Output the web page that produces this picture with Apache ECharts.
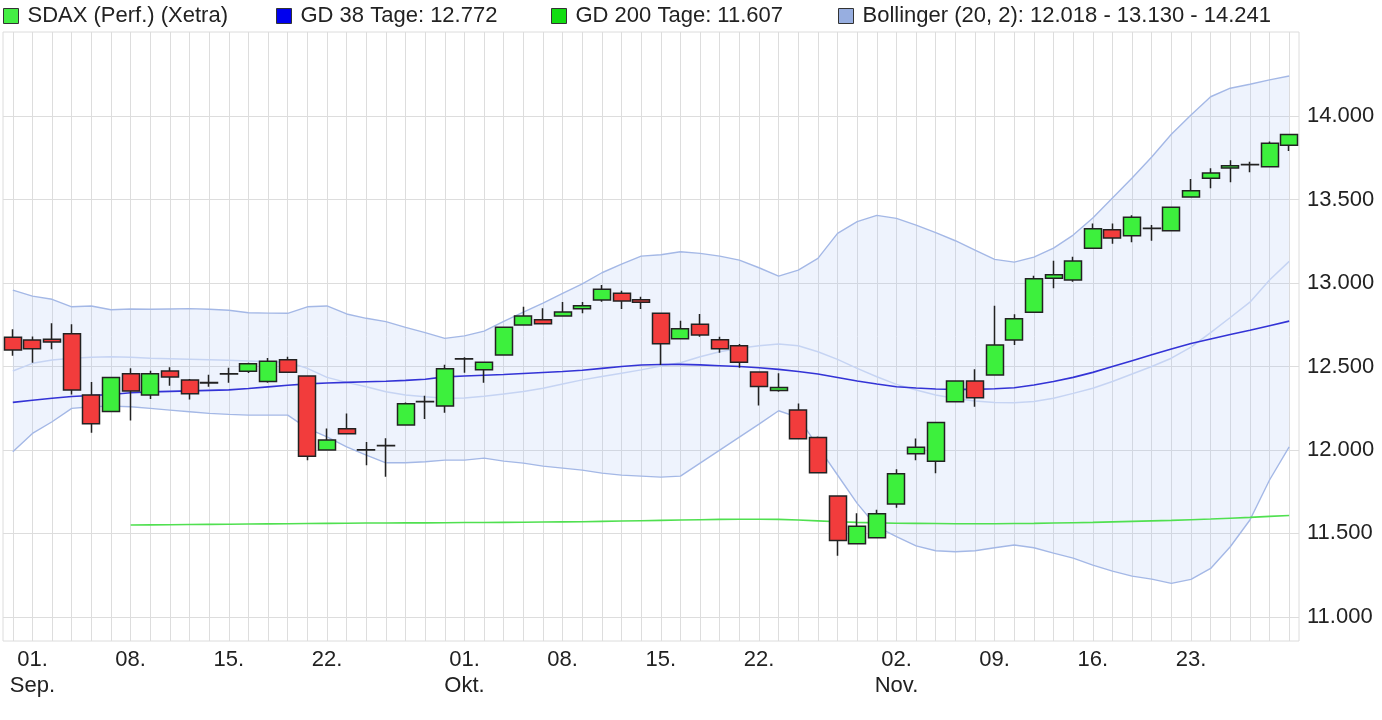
<!DOCTYPE html>
<html>
<head>
<meta charset="utf-8">
<script src="https://cdn.jsdelivr.net/npm/echarts@6/dist/echarts.min.js"></script>
<style>
html,body{margin:0;padding:0;background:#fff;}
#chart{width:1382px;height:720px;}
</style>
</head>
<body>
<div id="chart"></div>
<script>
const dates = [
'2020-08-31',
'2020-09-01','2020-09-02','2020-09-03','2020-09-04','2020-09-07','2020-09-08','2020-09-09','2020-09-10','2020-09-11',
'2020-09-14','2020-09-15','2020-09-16','2020-09-17','2020-09-18','2020-09-21','2020-09-22','2020-09-23','2020-09-24','2020-09-25',
'2020-09-28','2020-09-29','2020-09-30',
'2020-10-01','2020-10-02','2020-10-05','2020-10-06','2020-10-07','2020-10-08','2020-10-09','2020-10-12','2020-10-13','2020-10-14',
'2020-10-15','2020-10-16','2020-10-19','2020-10-20','2020-10-21','2020-10-22','2020-10-23','2020-10-26','2020-10-27','2020-10-28',
'2020-10-29','2020-10-30',
'2020-11-02','2020-11-03','2020-11-04','2020-11-05','2020-11-06','2020-11-09','2020-11-10','2020-11-11','2020-11-12','2020-11-13',
'2020-11-16','2020-11-17','2020-11-18','2020-11-19','2020-11-20','2020-11-23','2020-11-24','2020-11-25','2020-11-26','2020-11-27',
'2020-11-30'
];

const openVals = [12675,12659,12663,12697,12329,12231,12457,12329,12473,12419,
12402,12455,12471,12411,12541,12443,11999,12127,11999,12025,
12149,12289,12263,12545,12481,12569,12749,12781,12803,12846,
12899,12939,12900,12819,12667,12753,12661,12625,12467,12357,
12239,12075,11724,11438,11474,11676,11977,11932,12289,12413,
12449,12659,12825,13029,13019,13209,13320,13284,13327,13314,
13516,13628,13690,13709,13698,13826];
const closeVals = [12599,12607,12647,12359,12157,12435,12353,12457,12437,12337,
12404,12457,12517,12531,12465,11962,12059,12097,12001,12027,
12277,12291,12487,12547,12525,12735,12803,12757,12827,12864,
12963,12893,12885,12637,12727,12689,12607,12525,12381,12375,
12067,11863,11458,11542,11617,11857,12016,12165,12413,12313,
12629,12787,13026,13050,13132,13326,13270,13394,13329,13454,
13554,13660,13704,13711,13838,13890];
const lowVals = [12565,12523,12603,12333,12103,12231,12177,12305,12385,12303,
12379,12403,12461,12403,12461,11938,11995,12095,11908,11839,
12147,12185,12223,12463,12403,12567,12747,12755,12801,12819,
12888,12845,12845,12509,12665,12679,12583,12493,12267,12349,
12065,11861,11366,11436,11470,11653,11938,11861,12287,12259,
12447,12629,12823,12969,13008,13207,13236,13245,13254,13312,
13514,13568,13604,13664,13695,13792];
const highVals = [12723,12680,12759,12753,12407,12437,12489,12475,12495,12425,
12451,12493,12522,12551,12559,12445,12129,12219,12047,12070,
12285,12325,12511,12555,12529,12740,12858,12849,12887,12887,
12989,12954,12918,12821,12775,12815,12679,12635,12470,12459,
12279,12080,11726,11620,11641,11884,12069,12167,12418,12483,
12864,12813,13044,13134,13158,13358,13358,13406,13348,13458,
13624,13688,13736,13728,13848,13893];

const gd38 = [12285,12298,12310,12320,12326,12332,12343,12348,12351,12354,
12357,12360,12368,12378,12388,12396,12401,12405,12409,12412,
12417,12424,12438,12443,12448,12452,12458,12464,12470,12478,
12489,12500,12509,12512,12513,12510,12505,12500,12493,12483,
12470,12455,12434,12413,12395,12379,12371,12365,12363,12363,
12367,12373,12389,12410,12435,12465,12500,12535,12570,12605,
12638,12665,12692,12718,12745,12772];
const gd200 = [null,null,null,null,null,null,11550,11551,11552,11553,
11554,11555,11556,11557,11558,11559,11560,11561,11562,11562,
11563,11563,11564,11565,11565,11566,11567,11568,11569,11570,
11572,11574,11576,11578,11580,11582,11584,11585,11585,11584,
11580,11575,11570,11566,11563,11561,11560,11559,11558,11558,
11558,11559,11560,11562,11564,11566,11569,11572,11575,11578,
11582,11586,11591,11596,11602,11607];
const bbUpper = [12958,12922,12903,12858,12863,12840,12845,12843,12845,12847,
12843,12837,12822,12820,12819,12858,12863,12815,12789,12769,
12735,12703,12669,12684,12712,12770,12826,12880,12938,12995,
13062,13114,13162,13170,13188,13178,13162,13138,13092,13042,
13078,13148,13298,13368,13406,13388,13348,13302,13254,13198,
13142,13126,13156,13210,13288,13390,13510,13630,13756,13892,
14008,14117,14168,14192,14218,14241];
const bbMiddle = [12473,12519,12539,12549,12555,12559,12555,12549,12546,12543,
12540,12537,12533,12529,12527,12489,12435,12405,12379,12349,
12329,12319,12310,12312,12322,12335,12350,12370,12395,12420,
12440,12460,12480,12503,12523,12559,12589,12609,12625,12635,
12625,12589,12543,12489,12439,12393,12359,12329,12309,12293,
12285,12283,12290,12310,12339,12370,12410,12455,12500,12550,
12616,12703,12794,12886,13019,13130];
const bbLower = [11989,12099,12169,12249,12259,12263,12259,12249,12239,12229,
12219,12213,12209,12209,12209,12129,12079,12019,11969,11923,
11923,11929,11939,11939,11951,11933,11921,11903,11891,11879,
11861,11849,11843,11837,11843,11921,11999,12077,12155,12235,
12195,12020,11850,11680,11540,11480,11425,11396,11390,11396,
11414,11430,11414,11382,11352,11310,11274,11244,11226,11200,
11224,11290,11420,11580,11820,12018];

const tickDates = ['2020-09-01','2020-09-08','2020-09-15','2020-09-22','2020-10-01','2020-10-08','2020-10-15','2020-10-22','2020-11-02','2020-11-09','2020-11-16','2020-11-23'];
const tickTexts = ['01.\nSep.','08.','15.','22.','01.\nOkt.','08.','15.','22.','02.\nNov.','09.','16.','23.'];
const yTicks = [11000,11500,12000,12500,13000,13500,14000];

const nameSdax = 'SDAX (Perf.) (Xetra)';
const nameGd38 = 'GD 38 Tage: 12.772';
const nameGd200 = 'GD 200 Tage: 11.607';
const nameBoll = 'Bollinger (20, 2): 12.018 - 13.130 - 14.241';

const candleData = dates.map((d, i) => [openVals[i], closeVals[i], lowVals[i], highVals[i]]);
const bandWidthData = bbUpper.map((u, i) => u - bbLower[i]);

const FONT = "'Liberation Sans', Arial, sans-serif";
const chart = echarts.init(document.getElementById('chart'), null, {renderer: 'canvas'});

function legendFor(name, left, color) {
  return {
    left: left, top: 5, padding: 0, orient: 'horizontal',
    selectedMode: false,
    itemWidth: 15, itemHeight: 15, icon: 'rect',
    textStyle: {fontSize: 22, color: '#222', fontFamily: FONT, padding: [0, 0, 0, 4]},
    data: [{name: name, icon: 'rect', itemStyle: {color: color, borderColor: '#333', borderWidth: 1, opacity: 1}}]
  };
}

const option = {
  animation: false,
  backgroundColor: '#fff',
  textStyle: {fontFamily: FONT},
  legend: [
    legendFor(nameSdax, 3, '#44ee44'),
    legendFor(nameGd38, 276, '#0000ee'),
    legendFor(nameGd200, 551, '#11dd11'),
    legendFor(nameBoll, 838, '#97aee0')
  ],
  grid: {
    left: 3, right: 83, top: 32, bottom: 79,
    show: true, borderColor: '#dcdcdc', borderWidth: 1,
    containLabel: false, outerBoundsMode: 'none'
  },
  xAxis: {
    type: 'category',
    data: dates,
    boundaryGap: true,
    axisLine: {show: false},
    axisTick: {show: false, alignWithLabel: true, interval: 0},
    splitLine: {show: true, interval: 0, alignWithLabel: true, lineStyle: {color: '#dddddd', width: 1}},
    axisLabel: {
      interval: (idx, val) => tickDates.indexOf(val) >= 0,
      formatter: (val) => { const k = tickDates.indexOf(val); return k >= 0 ? tickTexts[k] : ''; },
      fontSize: 22, color: '#222', fontFamily: FONT, lineHeight: 26, margin: 6,
      align: 'center'
    }
  },
  yAxis: {
    type: 'value',
    position: 'right',
    min: 10855, max: 14505,
    scale: true,
    axisLine: {show: false},
    axisTick: {show: false, customValues: yTicks},
    splitLine: {show: true, lineStyle: {color: '#dddddd', width: 1}},
    axisLabel: {
      customValues: yTicks,
      formatter: (v) => (v / 1000).toFixed(3),
      fontSize: 22, color: '#222', fontFamily: FONT, margin: 8
    }
  },
  series: [
    {name: 'bbBase', type: 'line', z: 2, data: bbLower, stack: 'bb', symbol: 'none', silent: true,
     lineStyle: {width: 0, opacity: 0}},
    {name: 'bbFill', type: 'line', z: 2, data: bandWidthData, stack: 'bb', symbol: 'none', silent: true,
     lineStyle: {width: 0, opacity: 0}, areaStyle: {color: 'rgba(170,192,245,0.28)'}},
    {name: 'bbMid', type: 'line', z: 3, data: bbMiddle, symbol: 'none', silent: true,
     lineStyle: {color: '#c6d4f3', width: 1.5}},
    {name: nameBoll, type: 'line', z: 3, data: bbUpper, symbol: 'none', silent: true,
     itemStyle: {color: '#97aee0'}, lineStyle: {color: '#a4b8e6', width: 1.4}},
    {name: 'bbLow', type: 'line', z: 3, data: bbLower, symbol: 'none', silent: true,
     lineStyle: {color: '#a4b8e6', width: 1.4}},
    {name: nameGd200, type: 'line', z: 4, data: gd200, symbol: 'none', silent: true,
     itemStyle: {color: '#11dd11'}, lineStyle: {color: '#50e050', width: 1.6}},
    {name: nameGd38, type: 'line', z: 4, data: gd38, symbol: 'none', silent: true,
     itemStyle: {color: '#0000ee'}, lineStyle: {color: '#3333d6', width: 1.6}},
    {name: nameSdax, type: 'candlestick', z: 6, data: candleData, barWidth: 17.5,
     itemStyle: {color: '#3df03d', color0: '#f23c3c', borderColor: '#222', borderColor0: '#222', borderWidth: 1.5, opacity: 1}}
  ]
};
chart.setOption(option);
</script>
</body>
</html>
